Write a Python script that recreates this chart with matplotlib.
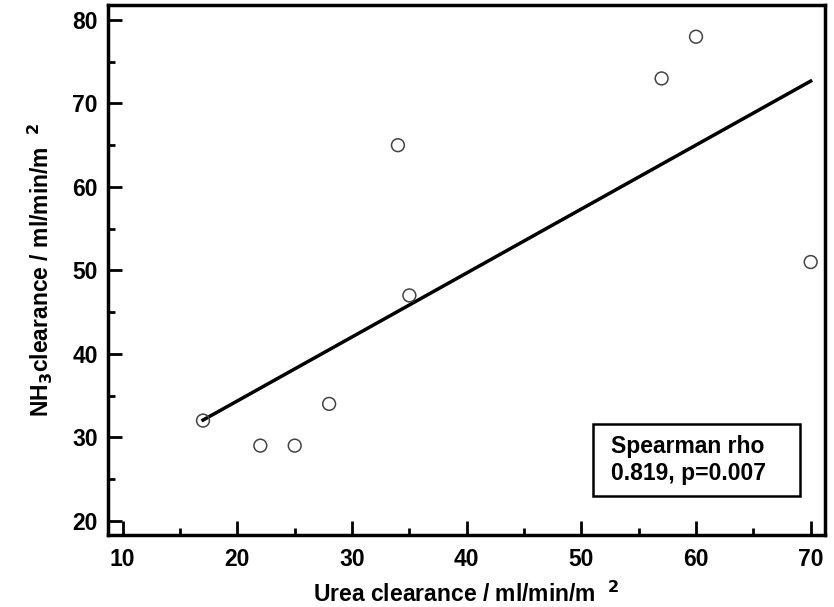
import numpy as np
import matplotlib
matplotlib.use('Agg')
import matplotlib.pyplot as plt
from matplotlib.ticker import MultipleLocator
from matplotlib.patches import Rectangle

plt.rcParams['font.family'] = ['Liberation Sans', 'DejaVu Sans']
plt.rcParams['font.weight'] = 'bold'
plt.rcParams['mathtext.default'] = 'bf'

urea = [17, 22, 25, 28, 34, 35, 57, 60, 70]
nh3 = [32, 29, 29, 34, 65, 47, 73, 78, 51]

fig = plt.figure(figsize=(8.34, 6.07), dpi=100)
ax = fig.add_axes([107.5 / 834, 1 - 535 / 607, (825 - 107.5) / 834, (535 - 5) / 607])

# regression line over the data range
slope, intercept = np.polyfit(urea, nh3, 1)
xs = np.array([min(urea), max(urea)])
ax.plot(xs, slope * xs + intercept, color='black', lw=2.5, zorder=2)
ax.scatter(urea, nh3, s=85, facecolors='none', edgecolors='#444444', linewidths=1.1, zorder=3)

ax.set_xlim(8.67, 71.25)
ax.set_ylim(18.29, 81.8)
ax.xaxis.set_major_locator(MultipleLocator(10))
ax.xaxis.set_minor_locator(MultipleLocator(5))
ax.yaxis.set_major_locator(MultipleLocator(10))
ax.yaxis.set_minor_locator(MultipleLocator(5))
ax.tick_params(which='both', direction='in', width=2, labelsize=16.5)
ax.tick_params(which='major', length=10)
ax.tick_params(which='minor', length=5)
ax.tick_params(axis='x', pad=9)
ax.tick_params(axis='y', pad=7)
for s in ax.spines.values():
    s.set_linewidth(2.5)

ax.set_xlabel('Urea clearance / ml/min/m $^{\\ 2}$', fontsize=16.5, fontweight='bold', labelpad=8)
ax.set_ylabel('NH$_3$clearance / ml/min/m $^{\\ 2}$', fontsize=16.5, fontweight='bold', labelpad=12)

# stats box
ax.add_patch(Rectangle((0.6767, 0.0736), 0.2885, 0.1358, transform=ax.transAxes,
                       facecolor='white', edgecolor='black', lw=1.8, zorder=4))
ax.text(0.7018, 0.1415, 'Spearman rho\n0.819, p=0.007', transform=ax.transAxes,
        ha='left', va='center', fontsize=16.5, fontweight='bold', linespacing=1.25, zorder=5)

fig.savefig('out.png', dpi=100)
